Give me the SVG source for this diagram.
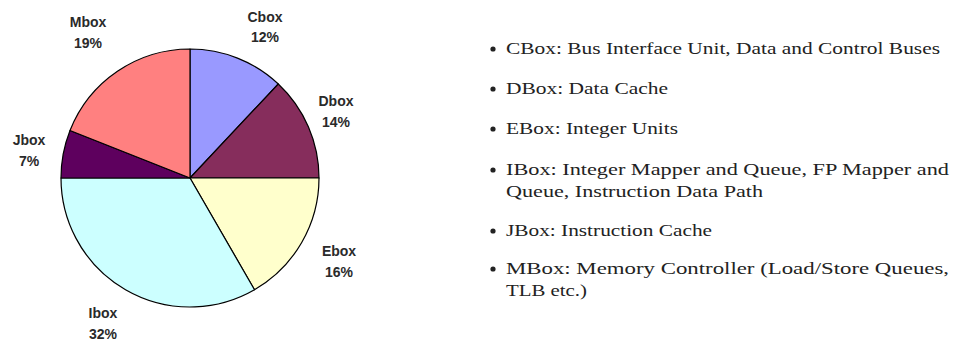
<svg xmlns="http://www.w3.org/2000/svg" width="958" height="347" viewBox="0 0 958 347">
<style>
.sl{stroke:#000;stroke-width:1.2;stroke-linejoin:round}
.lb{font-family:"Liberation Sans",Arial,sans-serif;font-size:14px;font-weight:bold;fill:#2a2a2a;text-anchor:middle}
.lg{font-family:"Liberation Serif","Times New Roman",serif;font-size:17px;fill:#222}
.bu{fill:#222}
</style>
<rect width="958" height="347" fill="#fff"/>
<g id="pie">
<g id="cbox"><path class="sl" fill="#9999FF" d="M190,178 L190,49 A129,129 0 0 1 278.3,84 Z"/><text class="lb" x="265" y="22">Cbox</text><text class="lb" x="265" y="42">12%</text></g>
<g id="dbox"><path class="sl" fill="#862D5C" d="M190,178 L278.3,84 A129,129 0 0 1 319,178 Z"/><text class="lb" x="336" y="106">Dbox</text><text class="lb" x="336" y="127">14%</text></g>
<g id="ebox"><path class="sl" fill="#FFFFCC" d="M190,178 L319,178 A129,129 0 0 1 254.5,289.7 Z"/><text class="lb" x="339" y="256">Ebox</text><text class="lb" x="339" y="277">16%</text></g>
<g id="ibox"><path class="sl" fill="#CCFFFF" d="M190,178 L254.5,289.7 A129,129 0 0 1 61,178 Z"/><text class="lb" x="103" y="318">Ibox</text><text class="lb" x="103" y="339">32%</text></g>
<g id="jbox"><path class="sl" fill="#5E005E" d="M190,178 L61,178 A129,129 0 0 1 70,130.5 Z"/><text class="lb" x="29" y="145">Jbox</text><text class="lb" x="29" y="166">7%</text></g>
<g id="mbox"><path class="sl" fill="#FF8080" d="M190,178 L70,130.5 A129,129 0 0 1 190,49 Z"/><text class="lb" x="88" y="27">Mbox</text><text class="lb" x="88" y="48">19%</text></g>
</g>
<g id="legend">
<g id="l1"><circle class="bu" cx="493" cy="49" r="2.6"/><text class="lg" x="506" y="54" textLength="434" lengthAdjust="spacingAndGlyphs">CBox: Bus Interface Unit, Data and Control Buses</text></g>
<g id="l2"><circle class="bu" cx="493" cy="89" r="2.6"/><text class="lg" x="506" y="94" textLength="162" lengthAdjust="spacingAndGlyphs">DBox: Data Cache</text></g>
<g id="l3"><circle class="bu" cx="493" cy="129" r="2.6"/><text class="lg" x="506" y="134" textLength="172" lengthAdjust="spacingAndGlyphs">EBox: Integer Units</text></g>
<g id="l4"><circle class="bu" cx="493" cy="170" r="2.6"/><text class="lg" x="506" y="175" textLength="443" lengthAdjust="spacingAndGlyphs">IBox:  Integer Mapper and Queue, FP Mapper and</text><text class="lg" x="506" y="197" textLength="257" lengthAdjust="spacingAndGlyphs">Queue, Instruction Data Path</text></g>
<g id="l5"><circle class="bu" cx="493" cy="231" r="2.6"/><text class="lg" x="506" y="236" textLength="206" lengthAdjust="spacingAndGlyphs">JBox: Instruction Cache</text></g>
<g id="l6"><circle class="bu" cx="493" cy="269" r="2.6"/><text class="lg" x="506" y="274" textLength="443" lengthAdjust="spacingAndGlyphs">MBox:   Memory Controller (Load/Store Queues,</text><text class="lg" x="506" y="296" textLength="81" lengthAdjust="spacingAndGlyphs">TLB etc.)</text></g>
</g>
</svg>
